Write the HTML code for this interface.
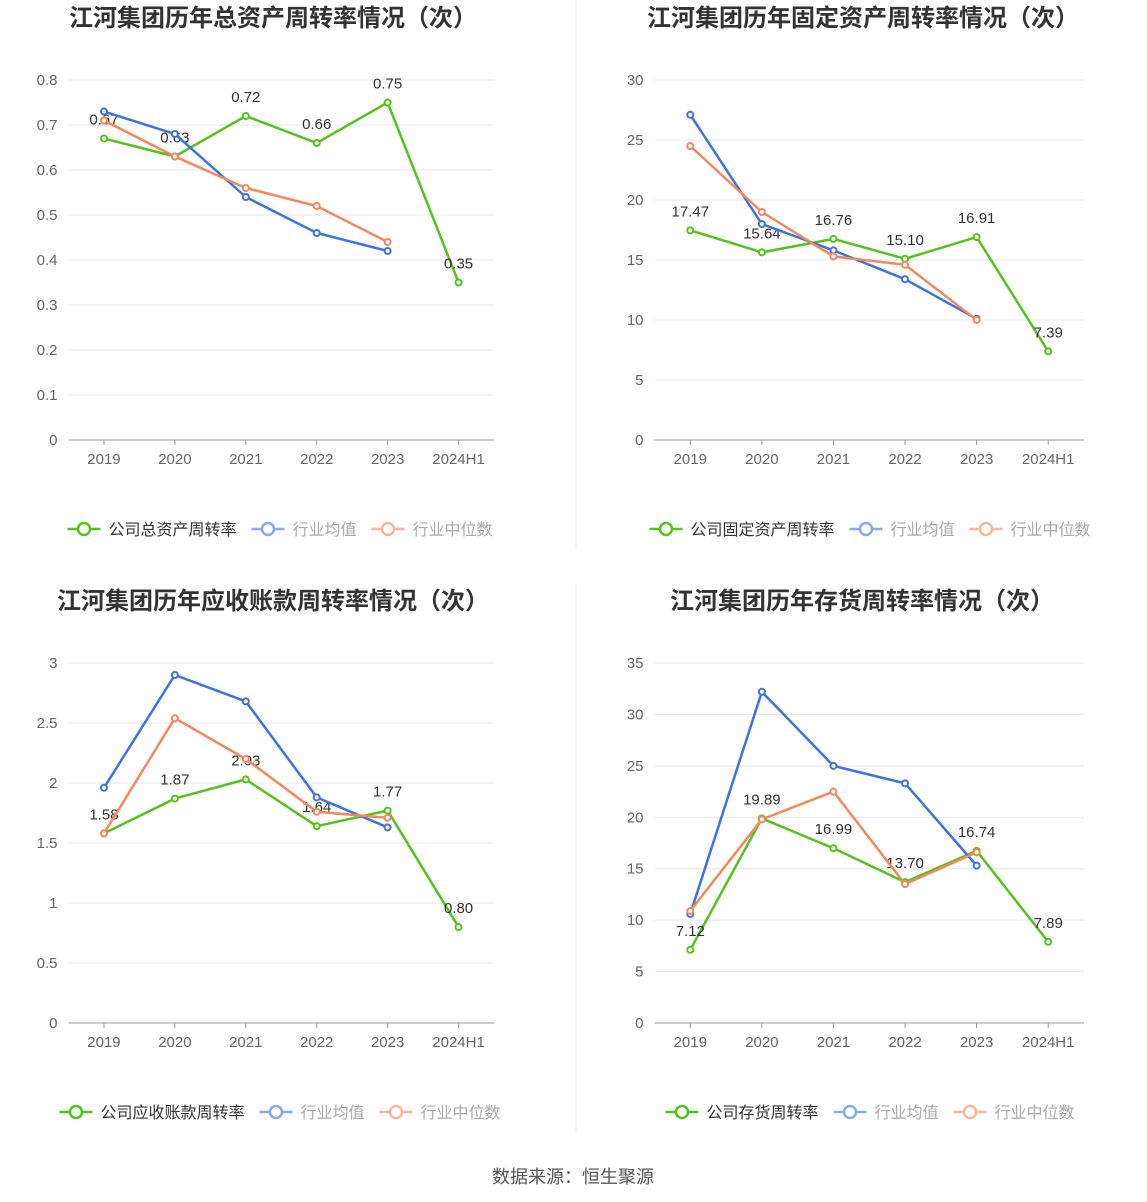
<!DOCTYPE html>
<html><head><meta charset="utf-8"><style>
body{margin:0;background:#fff;width:1147px;height:1202px;overflow:hidden;font-family:"Liberation Sans","Noto Sans CJK SC",sans-serif}
svg{position:absolute;left:0;top:0}
</style></head><body>
<svg id="s" width="1147" height="1202"></svg>
<script>
const years=["2019","2020","2021","2022","2023","2024H1"];
const c1Company=[0.67,0.63,0.72,0.66,0.75,0.35];
const c1Avg=[0.73,0.68,0.54,0.46,0.42];
const c1Med=[0.71,0.63,0.56,0.52,0.44];
const c1Ticks=[0,0.1,0.2,0.3,0.4,0.5,0.6,0.7,0.8];
const c2Company=[17.47,15.64,16.76,15.10,16.91,7.39];
const c2Avg=[27.1,18.0,15.8,13.4,10.1];
const c2Med=[24.5,19.0,15.3,14.6,10.0];
const c2Ticks=[0,5,10,15,20,25,30];
const c3Company=[1.58,1.87,2.03,1.64,1.77,0.80];
const c3Avg=[1.96,2.90,2.68,1.88,1.63];
const c3Med=[1.58,2.54,2.20,1.76,1.71];
const c3Ticks=[0,0.5,1,1.5,2,2.5,3];
const c4Company=[7.12,19.89,16.99,13.70,16.74,7.89];
const c4Avg=[10.6,32.2,25.0,23.3,15.3];
const c4Med=[10.9,19.8,22.5,13.5,16.6];
const c4Ticks=[0,5,10,15,20,25,30,35];

const S=document.getElementById('s');const NS="http://www.w3.org/2000/svg";
function mk(t,a,p){const e=document.createElementNS(NS,t);for(const k in a)e.setAttribute(k,a[k]);(p||S).appendChild(e);return e;}
const G="#52c41a",B="#3b73e6",O="#f5875a";
function chart(id,L,W,oy,title,compName,comp,avg,med,ticks,tx,lc){
  const g=mk('g',{});
  
  
  const R=L+W,T=oy+80,Bt=oy+440,max=ticks[ticks.length-1];
  const y=v=>Bt-(v/max)*(Bt-T);
  const step=(R-L)/6;const x=i=>L+step*(i+0.5);
  const t=mk('text',{x:tx,y:oy+26,'text-anchor':'middle','font-size':24,'font-weight':'bold',fill:'#333'},g);t.textContent=title;
  
  ticks.forEach(v=>{
    if(v>0)mk('line',{x1:L,x2:R,y1:y(v),y2:y(v),stroke:'#e6e8f2'},g);
    const tl=mk('text',{x:L-11,y:y(v)+5,'text-anchor':'end','font-size':15,fill:'#666'},g);tl.textContent=v;
    
  });
  mk('line',{x1:L,x2:R,y1:Bt,y2:Bt,stroke:'#999'},g);
  years.forEach((yr,i)=>{
    mk('line',{x1:x(i),x2:x(i),y1:Bt,y2:Bt+5,stroke:'#999'},g);
    const xl=mk('text',{x:x(i),y:Bt+24,'text-anchor':'middle','font-size':15,fill:'#666'},g);xl.textContent=yr;
    
  });
  function series(data,col,name,labels){
    const pts=data.map((v,i)=>x(i)+','+y(v)).join(' ');
    const pl=mk('polyline',{points:pts,fill:'none',stroke:col,'stroke-width':2.5},g);
    
    data.forEach((v,i)=>{
      const c=mk('circle',{cx:x(i),cy:y(v),r:3,fill:'#fff',stroke:col,'stroke-width':2},g);
      
      if(labels){const lt=mk('text',{x:x(i),y:y(v)-14,'text-anchor':'middle','font-size':15,fill:'#333'},g);lt.textContent=v.toFixed(2);
        }
    });
  }
  series(comp,G,'company',true);series(avg,B,'industry-avg');series(med,O,'industry-median');
  const items=[[compName,G,'#333'],['行业均值','#8aaaf0','#aaa'],['行业中位数','#f8b69b','#aaa']];
  const lw=items.map(it=>41+it[0].length*16+15);
  const total=lw[0]+lw[1]+lw[2]-15;
  let lx=lc-total/2;
  items.forEach((it,k)=>{
    const lg=mk('g',{},g);
    
    const ly=oy+529;
    mk('line',{x1:lx,x2:lx+33,y1:ly,y2:ly,stroke:it[1],'stroke-width':2.5},lg);
    mk('circle',{cx:lx+16.5,cy:ly,r:6,fill:'#fff',stroke:it[1],'stroke-width':2.5},lg);
    const tt=mk('text',{x:lx+41,y:ly+6,'font-size':16,fill:it[2]},lg);tt.textContent=it[0];
    lx+=lw[k];
  });
}
mk('line',{x1:576,x2:576,y1:0,y2:550,stroke:'#eee'});
mk('line',{x1:576,x2:576,y1:583,y2:1133,stroke:'#eee'});
chart('chart-1',68.5,425.5,0,'江河集团历年总资产周转率情况（次）','公司总资产周转率',c1Company,c1Avg,c1Med,c1Ticks,273,280);
chart('chart-2',654.5,429.5,0,'江河集团历年固定资产周转率情况（次）','公司固定资产周转率',c2Company,c2Avg,c2Med,c2Ticks,863,870);
chart('chart-3',68.5,425.5,583,'江河集团历年应收账款周转率情况（次）','公司应收账款周转率',c3Company,c3Avg,c3Med,c3Ticks,273,280);
chart('chart-4',654.5,429.5,583,'江河集团历年存货周转率情况（次）','公司存货周转率',c4Company,c4Avg,c4Med,c4Ticks,862,870);
const src=mk('text',{x:573,y:1183,'text-anchor':'middle','font-size':18,fill:'#555'});src.textContent='数据来源：恒生聚源';

</script>
</body></html>
